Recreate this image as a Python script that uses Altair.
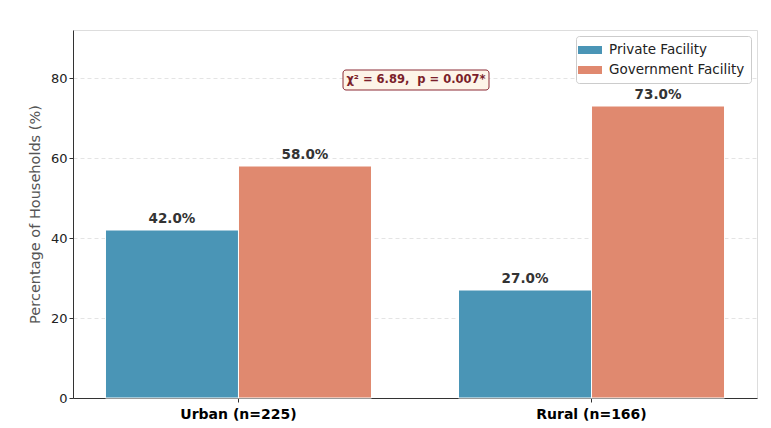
import altair as alt
import pandas as pd

categories = ["Urban (n=225)", "Rural (n=166)"]
series = ["Private Facility", "Government Facility"]
private_vals = [42.0, 27.0]
government_vals = [58.0, 73.0]
colors = ["#4a95b6", "#e0896f"]
annotation_text = "χ² = 6.89,\u00a0 p = 0.007*"

rows = []
for i, c in enumerate(categories):
    rows.append({"category": c, "series": series[0], "value": private_vals[i]})
    rows.append({"category": c, "series": series[1], "value": government_vals[i]})
df = pd.DataFrame(rows)
df["label"] = df["value"].map(lambda v: f"{v:.1f}%")

FONT = "DejaVu Sans"

x_enc = alt.X(
    "category:N",
    sort=categories,
    title=None,
    scale=alt.Scale(paddingInner=0.2465, paddingOuter=0.092),
    axis=alt.Axis(labelAngle=0, labelFontSize=14, labelFontWeight="bold",
                  labelColor="#000000", tickColor="#333333", tickSize=4,
                  domainColor="#333333", labelPadding=5, grid=False),
)
y_enc = alt.Y(
    "value:Q",
    title="Percentage of Households (%)",
    scale=alt.Scale(domain=[0, 92], nice=False),
    axis=alt.Axis(values=[0, 20, 40, 60, 80], labelFontSize=13,
                  labelColor="#222222", tickColor="#333333", tickSize=4,
                  domainColor="#333333", grid=True, gridColor="#dddddd",
                  gridDash=[4, 3], gridWidth=0.8, titleFontSize=14.5,
                  titleFontWeight="normal", titleColor="#555555",
                  titlePadding=8),
)
xoff = alt.XOffset("series:N", sort=series, scale=alt.Scale(paddingInner=0, paddingOuter=0))

base = alt.Chart(df)

bars = base.mark_bar(stroke="white", strokeWidth=1).encode(
    x=x_enc,
    xOffset=xoff,
    y=y_enc,
    color=alt.Color(
        "series:N",
        sort=series,
        scale=alt.Scale(domain=series, range=colors),
        legend=alt.Legend(
            title=None, orient="top-right", offset=6, labelFontSize=13.5,
            labelColor="#222222", symbolType="M-1.5,-0.5H1.5V0.5H-1.5Z",
            symbolSize=256, symbolStrokeWidth=0, padding=6,
            strokeColor="#cccccc", fillColor="white", cornerRadius=3,
            rowPadding=5, labelOffset=11,
        ),
    ),
)

labels = base.mark_text(
    baseline="bottom", dy=-4, fontSize=13.5, fontWeight="bold", color="#333333", font=FONT
).encode(
    x=alt.X("category:N", sort=categories),
    xOffset=xoff,
    y="value:Q",
    text="label:N",
)

ann_df = pd.DataFrame({"text": [annotation_text], "y": [80]})
ann_box = alt.Chart(ann_df).mark_rect(
    fill="#fdf4e8", stroke="#8b2a35", strokeWidth=1, cornerRadius=3
).encode(
    x=alt.value(270), x2=alt.value(416), y=alt.value(40), y2=alt.value(60)
)
ann_text = alt.Chart(ann_df).mark_text(
    fontSize=11.5, fontWeight="bold", color="#7b1f2b", font=FONT, baseline="middle", dy=1.5
).encode(
    x=alt.value(343), y=alt.Y("y:Q"), text="text:N"
)

chart = alt.layer(bars, labels, ann_box, ann_text).properties(
    width=684, height=368,
    autosize=alt.AutoSizeParams(type="none"),
    padding={"left": 65, "top": 22, "right": 6, "bottom": 30},
).configure_view(stroke=None).configure(font=FONT, background="white")

chart.save("out.html", embed_options={"renderer": "svg", "actions": False})
